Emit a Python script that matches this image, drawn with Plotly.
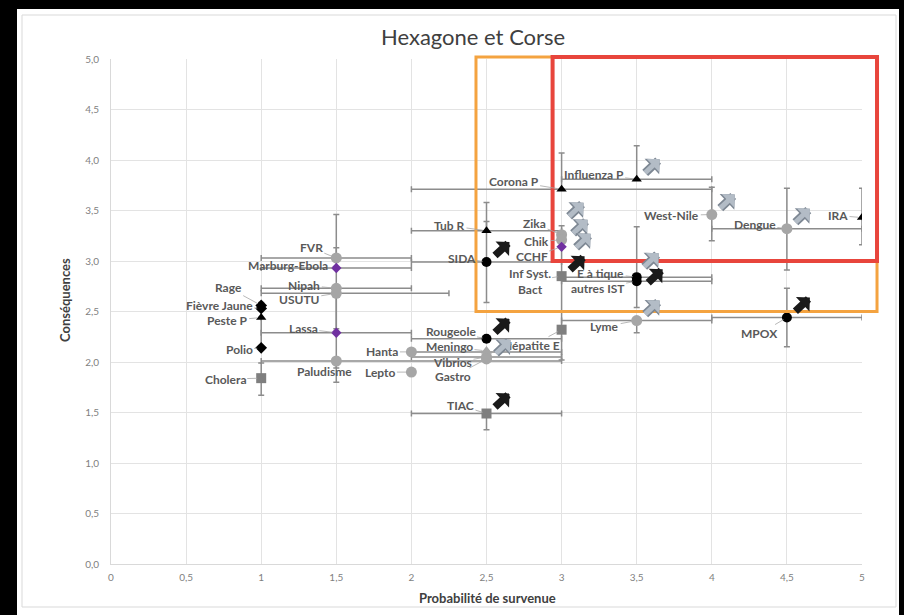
import plotly.graph_objects as go

# ---------------- data ----------------
names = ["FVR", "Marburg-Ebola", "Nipah", "USUTU", "Rage", "Fièvre Jaune", "Peste P",
         "Lassa", "Polio", "Cholera", "Paludisme", "Hanta", "Lepto", "Rougeole",
         "Meningo", "Vibrios", "Gastro", "TIAC", "SIDA", "Tub R", "Corona P", "Zika",
         "Chik", "CCHF", "Inf Syst.<br>Bact", "Hépatite E", "Influenza P", "E à tique",
         "autres IST", "Lyme", "West-Nile", "Dengue", "IRA", "MPOX"]
probabilite = [1.5, 1.5, 1.5, 1.5, 1, 1, 1, 1.5, 1, 1, 1.5, 2, 2, 2.5, 2.5, 2.5, 2.5, 2.5,
               2.5, 2.5, 3, 3, 3, 3, 3, 3, 3.5, 3.5, 3.5, 3.5, 4, 4.5, 5, 4.5]
consequences = [3.03, 2.93, 2.73, 2.68, 2.56, 2.53, 2.44, 2.29, 2.14, 1.84, 2.01, 2.10,
                1.90, 2.23, 2.11, 2.05, 2.03, 1.49, 2.99, 3.30, 3.71, 3.26, 3.21, 3.14,
                2.85, 2.32, 3.81, 2.84, 2.80, 2.41, 3.46, 3.32, 3.43, 2.44]
kind = ["gc", "pd", "gc", "gc", "bd", "bd", "bt", "pd", "bd", "gs", "gc", "gc", "gc", "bc",
        "gt", "gc", "gc", "gs", "bc", "bt", "bt", "gc", "gc", "pd", "gs", "gs", "bt", "bc",
        "bc", "gc", "gc", "gc", "bt", "bc"]
x_err_minus = [0.5, 0.5, 0.5, 0.5, 0, 0, 0, 0.5, 0, 0, 0.5, 0, 0, 0.5, 0, 0.5, 0, 0.5,
               0.5, 0.5, 1.0, 0, 0, 0, 0, 0, 0.5, 0.5, 0.5, 0.5, 0, 0.5, 0, 0.5]
x_err_plus = [0.5, 0.5, 0.5, 0.75, 0, 0, 0, 0.5, 0, 0, 1.5, 1.0, 0, 0.5, 0, 0.5, 0, 0.5,
              0.5, 0.5, 1.0, 0, 0, 0, 0, 0, 0.5, 0.5, 0.5, 0.5, 0, 0.5, 0, 0.5]
y_err_minus = [0, 0, 0.4, 0, 0, 0, 0, 0.35, 0, 0.17, 0.21, 0, 0, 0, 0, 0, 0, 0.16,
               0.4, 0, 0, 0, 0, 0, 0.5, 0.3, 0, 0.3, 0, 0.12, 0.26, 0.41, 0.27, 0.29]
y_err_plus = [0.43, 0, 0.4, 0, 0, 0, 0, 0.35, 0.45, 0.15, 0, 0, 0, 0, 0, 0, 0, 0,
              0.4, 0.28, 0.36, 0, 0, 0, 0.5, 0, 0.33, 0.5, 0, 0, 0.27, 0.4, 0.29, 0.29]

# trend arrows: (disease, colour kind)
trend_arrows = [("SIDA", "black"), ("Rougeole", "black"), ("Meningo", "grey"),
                ("TIAC", "black"), ("Zika", "grey"), ("Chik", "grey"), ("CCHF", "grey"),
                ("Inf Syst.<br>Bact", "black"), ("Influenza P", "grey"),
                ("E à tique", "grey"), ("autres IST", "black"), ("Lyme", "grey"),
                ("West-Nile", "grey"), ("Dengue", "grey"), ("MPOX", "black")]

x_ticks = [0, 0.5, 1, 1.5, 2, 2.5, 3, 3.5, 4, 4.5, 5]
x_tick_text = ["0", "0,5", "1", "1,5", "2", "2,5", "3", "3,5", "4", "4,5", "5"]
y_ticks = [0, 0.5, 1, 1.5, 2, 2.5, 3, 3.5, 4, 4.5, 5]
y_tick_text = ["0,0", "0,5", "1,0", "1,5", "2,0", "2,5", "3,0", "3,5", "4,0", "4,5", "5,0"]

# ---------------- layout helpers ----------------
W, H = 904, 615
L, R, T, B = 111, 862, 59, 564
def px2x(px):
    return (px - L) / (R - L)
def py2y(py):
    return (B - py) / (B - T)

label_offsets = {
    "FVR": (-25, -10), "Marburg-Ebola": (-48, -3), "Nipah": (-32, -3), "USUTU": (-37, 6),
    "Rage": (-33, -18), "Fièvre Jaune": (-42, -3), "Peste P": (-34, 3), "Lassa": (-33, -4),
    "Polio": (-22, 2), "Cholera": (-36, 1), "Paludisme": (-12, 11), "Hanta": (-29, 0),
    "Lepto": (-31, 0), "Rougeole": (-36, -7), "Meningo": (-37, -4), "Vibrios": (-34, 6),
    "Gastro": (-34, 18), "TIAC": (-26, -8), "SIDA": (-25, -4), "Tub R": (-37, -5),
    "Corona P": (-48, -8), "Zika": (-27, -11), "Chik": (-25, 2), "CCHF": (-30, 10),
    "Inf Syst.<br>Bact": (-32, 5), "Hépatite E": (-30, 16), "Influenza P": (-43, -5),
    "E à tique": (-36, -4), "autres IST": (-39, 7), "Lyme": (-32, 6), "West-Nile": (-40, 1),
    "Dengue": (-32, -4), "IRA": (-24, -2), "MPOX": (-27, 16),
}
arrow_head_offsets = {"Zika": (22, -32), "Chik": (26, -20), "CCHF": (29, -13),
                      "E à tique": (22, -24), "autres IST": (26, -12), "Meningo": (24, -11)}

styles = {
    "gc": dict(symbol="circle", color="#a6a6a6", size=11),
    "gs": dict(symbol="square", color="#7f7f7f", size=10),
    "gt": dict(symbol="triangle-up", color="#a6a6a6", size=10),
    "bc": dict(symbol="circle", color="#000000", size=10),
    "bd": dict(symbol="diamond", color="#000000", size=9),
    "bt": dict(symbol="triangle-up", color="#000000", size=9),
    "pd": dict(symbol="diamond", color="#7030a0", size=8),
}

FONT = "Lato, 'Open Sans', sans-serif"
fig = go.Figure()

# error bars (drawn first)
fig.add_trace(go.Scatter(
    x=probabilite, y=consequences, mode="markers",
    marker=dict(size=1, color="rgba(0,0,0,0)"),
    error_x=dict(type="data", symmetric=False, array=x_err_plus, arrayminus=x_err_minus,
                 color="#8c8c8c", thickness=1.5, width=3),
    error_y=dict(type="data", symmetric=False, array=y_err_plus, arrayminus=y_err_minus,
                 color="#8c8c8c", thickness=1.5, width=3),
    hoverinfo="skip", showlegend=False))

for k, st in styles.items():
    idx = [i for i, kk in enumerate(kind) if kk == k]
    fig.add_trace(go.Scatter(
        x=[probabilite[i] for i in idx], y=[consequences[i] for i in idx],
        text=[names[i] for i in idx], mode="markers",
        marker=dict(symbol=st["symbol"], color=st["color"], size=st["size"]),
        showlegend=False, hovertemplate="%{text}<br>%{x}, %{y}<extra></extra>"))

annotations = []
# point labels
for i, n in enumerate(names):
    ax, ay = label_offsets[n]
    annotations.append(dict(
        x=probabilite[i], y=consequences[i], xref="x", yref="y", text="<b>%s</b>" % n,
        showarrow=True, arrowhead=0, arrowwidth=0.8, arrowcolor="#a6a6a6",
        ax=ax, ay=ay, standoff=4, font=dict(family=FONT, size=12, color="#595959")))

# trend arrows (block arrows pointing up-right)
for n, col in trend_arrows:
    i = names.index(n)
    hx, hy = arrow_head_offsets.get(n, (23, -20))
    if col == "black":
        layers = [("#1a1a1a", 7.5, 0.44)]
    else:
        layers = [("#7d8793", 8.5, 0.42), ("#b3bcc6", 5, 0.62)]
    for c, w, s in layers:
        annotations.append(dict(
            x=probabilite[i], y=consequences[i], xref="x", yref="y", text="",
            showarrow=True, arrowhead=1, arrowsize=s, arrowwidth=w, arrowcolor=c,
            ax=-16, ay=15, xshift=hx, yshift=-hy, standoff=0))

# title and axis titles
annotations.append(dict(x=px2x(473), y=py2y(37), xref="paper", yref="paper",
                        xanchor="center", yanchor="middle",
                        text="Hexagone et Corse", showarrow=False,
                        font=dict(family=FONT, size=22, color="#404040")))
annotations.append(dict(x=px2x(487), y=py2y(598), xref="paper", yref="paper",
                        xanchor="center", yanchor="middle",
                        text="<b>Probabilité de survenue</b>", showarrow=False,
                        font=dict(family=FONT, size=13, color="#404040")))
annotations.append(dict(x=px2x(65), y=py2y(300), xref="paper", yref="paper",
                        xanchor="center", yanchor="middle",
                        text="<b>Conséquences</b>", showarrow=False, textangle=-90,
                        font=dict(family=FONT, size=13, color="#404040")))

shapes = [
    # frame
    dict(type="rect", xref="paper", yref="paper", x0=px2x(22), x1=px2x(896),
         y0=py2y(607), y1=py2y(15), line=dict(color="#d9d9d9", width=1)),
    dict(type="rect", xref="paper", yref="paper", x0=px2x(0), x1=px2x(17),
         y0=py2y(615), y1=py2y(0), fillcolor="#000000", line=dict(width=0)),
    dict(type="rect", xref="paper", yref="paper", x0=px2x(0), x1=px2x(904),
         y0=py2y(9), y1=py2y(0), fillcolor="#000000", line=dict(width=0)),
    dict(type="rect", xref="paper", yref="paper", x0=px2x(899), x1=px2x(904),
         y0=py2y(615), y1=py2y(0), fillcolor="#000000", line=dict(width=0)),
    # priority zones
    dict(type="rect", xref="paper", yref="paper", x0=2.43 / 5, x1=5.1 / 5,
         y0=2.5 / 5, y1=5.02 / 5, line=dict(color="#f4a340", width=3)),
    dict(type="rect", xref="paper", yref="paper", x0=2.94 / 5, x1=5.1 / 5,
         y0=3.0 / 5, y1=5.02 / 5, line=dict(color="#e8453c", width=4)),
]

fig.update_layout(
    width=W, height=H, margin=dict(l=L, r=W - R, t=T, b=H - B),
    paper_bgcolor="white", plot_bgcolor="white",
    font=dict(family=FONT, color="#7f7f7f"),
    annotations=annotations, shapes=shapes, showlegend=False,
    xaxis=dict(range=[0, 5], tickvals=x_ticks, ticktext=x_tick_text, showgrid=True,
               gridcolor="#e3e3e3", zeroline=False, showline=True, linecolor="#d9d9d9",
               ticks="outside", ticklen=4, tickcolor="rgba(0,0,0,0)",
               tickfont=dict(size=10, color="#7f7f7f")),
    yaxis=dict(range=[0, 5], tickvals=y_ticks, ticktext=y_tick_text, showgrid=True,
               gridcolor="#e3e3e3", zeroline=False, showline=True, linecolor="#d9d9d9",
               ticks="outside", ticklen=9, tickcolor="rgba(0,0,0,0)",
               tickfont=dict(size=10, color="#7f7f7f")),
)

fig.write_html("out.html", config={"displayModeBar": False},
               post_script="document.body.style.margin='0px';")
